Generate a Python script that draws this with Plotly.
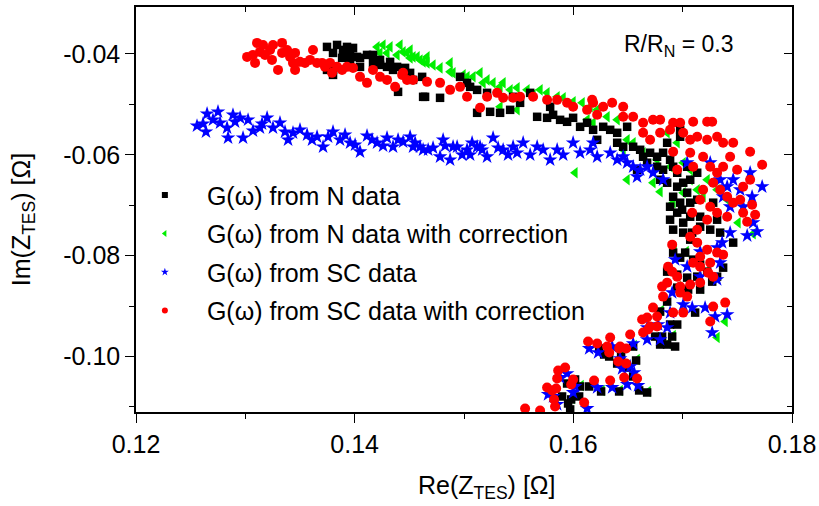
import plotly.graph_objects as go

# ---------------- data (Re, Im of Z_TES in Ohm) ----------------
# G(w) from N data
n_re = [0.13747, 0.13839, 0.13930, 0.13985, 0.13802, 0.13894, 0.13985, 0.14049, 0.14113, 0.13802,
        0.14049, 0.14168, 0.14232, 0.14296, 0.14351, 0.14443, 0.14507, 0.14534, 0.14626, 0.14781,
        0.14964, 0.15056, 0.15120, 0.15330, 0.15211, 0.15449, 0.13894, 0.13958, 0.13885, 0.13958,
        0.14022, 0.14168, 0.14232, 0.14324, 0.14388, 0.14461, 0.13747, 0.13802, 0.14397, 0.14617,
        0.14644, 0.15028, 0.15120, 0.15239, 0.15422, 0.15513, 0.15605, 0.15669, 0.15760, 0.15815,
        0.15879, 0.15943, 0.15998, 0.16062, 0.16126, 0.16181, 0.16218, 0.15788, 0.16273, 0.16337,
        0.16401, 0.16492, 0.16401, 0.16456, 0.16547, 0.16611, 0.16638, 0.16702, 0.16766, 0.16821,
        0.16885, 0.16675, 0.16766, 0.16821, 0.16913, 0.16950, 0.16794, 0.16858, 0.16950, 0.17005,
        0.17041, 0.16913, 0.16977, 0.16885, 0.16950, 0.17069, 0.16977, 0.16858, 0.17041, 0.17133,
        0.17069, 0.16583, 0.16977, 0.17462, 0.17133, 0.16995, 0.16885, 0.16913, 0.17005, 0.17160,
        0.17279, 0.17315, 0.17343, 0.17069, 0.17160, 0.17252, 0.17087, 0.17005, 0.17069, 0.16913,
        0.17023, 0.16977, 0.17096, 0.17160, 0.17224, 0.16858, 0.16950, 0.17041, 0.17133, 0.17270,
        0.17315, 0.17370, 0.16950, 0.17050, 0.17160, 0.16858, 0.16794, 0.17114, 0.16885, 0.16950,
        0.16748, 0.16812, 0.16904, 0.16794, 0.16858, 0.16931, 0.16547, 0.16236, 0.16282, 0.16328,
        0.16401, 0.16437, 0.16492, 0.16574, 0.16547, 0.16602, 0.16675, 0.16062, 0.16145, 0.16254,
        0.16419, 0.16016, 0.15943, 0.16053, 0.15980, 0.15952, 0.15897, 0.15971]
n_im = [-0.03861, -0.03822, -0.03861, -0.03881, -0.03980, -0.04020, -0.04059, -0.04079, -0.04020, -0.04317,
        -0.04257, -0.04178, -0.04218, -0.04257, -0.04317, -0.04317, -0.04376, -0.04515, -0.04851, -0.04871,
        -0.04455, -0.04653, -0.05168, -0.05168, -0.04772, -0.04851, -0.03921, -0.03960, -0.04079, -0.04119,
        -0.04059, -0.04020, -0.04119, -0.04158, -0.04257, -0.04277, -0.04317, -0.04416, -0.04752, -0.04455,
        -0.04851, -0.04574, -0.04713, -0.05148, -0.05109, -0.04970, -0.04772, -0.05247, -0.05267, -0.05208,
        -0.05307, -0.05346, -0.05267, -0.05445, -0.05366, -0.05505, -0.05703, -0.05049, -0.05445, -0.05505,
        -0.05564, -0.05445, -0.05762, -0.05841, -0.05841, -0.05901, -0.06039, -0.05960, -0.06039, -0.05960,
        -0.06099, -0.06158, -0.06237, -0.06297, -0.06237, -0.06356, -0.06495, -0.06554, -0.06633, -0.06554,
        -0.06752, -0.06832, -0.06950, -0.07030, -0.07148, -0.06950, -0.05505, -0.05762, -0.06237, -0.06356,
        -0.06495, -0.06297, -0.05643, -0.07742, -0.06891, -0.07089, -0.07287, -0.07485, -0.07346, -0.07228,
        -0.06950, -0.07287, -0.07544, -0.07228, -0.07426, -0.07485, -0.07544, -0.07544, -0.07683, -0.07940,
        -0.07940, -0.08040, -0.08079, -0.08178, -0.08317, -0.08317, -0.08376, -0.08436, -0.08416, -0.08515,
        -0.08416, -0.08238, -0.08634, -0.08673, -0.08673, -0.08911, -0.09109, -0.09129, -0.09366, -0.09366,
        -0.09604, -0.09604, -0.09604, -0.09762, -0.09762, -0.09802, -0.09802, -0.09841, -0.09960, -0.10000,
        -0.10139, -0.10000, -0.10218, -0.10079, -0.10396, -0.10673, -0.10713, -0.10594, -0.10594, -0.10693,
        -0.10693, -0.10455, -0.10535, -0.10792, -0.10851, -0.10931, -0.10792, -0.11049]

# G(w) from N data with correction
nc_re = [0.14168, 0.14205, 0.14232, 0.14260, 0.14296, 0.14324, 0.14388, 0.14415, 0.14443, 0.14479,
         0.14507, 0.14507, 0.14534, 0.14571, 0.14598, 0.14626, 0.14662, 0.14662, 0.14717, 0.14781,
         0.14873, 0.14873, 0.14900, 0.14992, 0.15028, 0.15083, 0.15147, 0.15175, 0.15211, 0.15266,
         0.15330, 0.15358, 0.15422, 0.15486, 0.15577, 0.15632, 0.15696, 0.15760, 0.15852, 0.15907,
         0.15998, 0.16081, 0.16154, 0.16218, 0.16126, 0.16181, 0.15330, 0.15486, 0.16309, 0.16401,
         0.16492, 0.16456, 0.16547, 0.16638, 0.16766, 0.16885, 0.16492, 0.16729, 0.16794, 0.16913,
         0.17005, 0.17069, 0.17005, 0.17069, 0.17133, 0.17187, 0.17224, 0.17315, 0.17407, 0.16858,
         0.16950, 0.16016, 0.17507, 0.17645, 0.17389, 0.17315, 0.16923, 0.17033, 0.17170, 0.17234,
         0.16960, 0.17170, 0.16804, 0.16914, 0.16868, 0.16557, 0.16292, 0.16447, 0.16584, 0.16072,
         0.16264, 0.16429, 0.15990, 0.16685]
nc_im = [-0.04059, -0.03861, -0.03980, -0.03822, -0.03980, -0.03861, -0.04020, -0.03822, -0.03960, -0.03980,
         -0.03921, -0.04079, -0.04059, -0.04059, -0.04119, -0.04158, -0.04059, -0.04178, -0.04218, -0.04277,
         -0.04178, -0.04356, -0.04376, -0.04416, -0.04455, -0.04455, -0.04376, -0.04574, -0.04515, -0.04574,
         -0.04653, -0.04574, -0.04713, -0.04673, -0.04713, -0.04812, -0.04713, -0.04772, -0.04851, -0.04871,
         -0.04950, -0.04970, -0.05049, -0.05109, -0.05307, -0.05366, -0.05049, -0.05109, -0.05247, -0.05307,
         -0.05703, -0.05901, -0.05762, -0.05960, -0.06099, -0.06237, -0.06495, -0.06554, -0.06732, -0.06950,
         -0.06752, -0.06495, -0.06158, -0.06297, -0.06693, -0.06832, -0.06495, -0.06693, -0.06891, -0.05564,
         -0.05762, -0.06356, -0.07346, -0.07564, -0.09307, -0.09624, -0.07920, -0.07920, -0.08158, -0.08297,
         -0.08614, -0.08653, -0.09089, -0.09584, -0.09742, -0.09782, -0.09940, -0.09980, -0.10059, -0.10574,
         -0.10673, -0.10673, -0.10831, -0.10693]

# G(w) from SC data
sc_re = [0.12558, 0.12613, 0.12640, 0.12650, 0.12704, 0.12750, 0.12769, 0.12842, 0.12887, 0.12906,
         0.12952, 0.12979, 0.13025, 0.13070, 0.13134, 0.13199, 0.13253, 0.13317, 0.13363, 0.13391,
         0.13436, 0.13565, 0.13656, 0.13711, 0.13802, 0.13866, 0.13958, 0.14049, 0.14113, 0.14205,
         0.14296, 0.14351, 0.14443, 0.14507, 0.14598, 0.14717, 0.14781, 0.14873, 0.14937, 0.15028,
         0.15120, 0.15211, 0.15266, 0.15358, 0.15449, 0.12833, 0.13153, 0.13500, 0.13610, 0.13757,
         0.13912, 0.14004, 0.14159, 0.14260, 0.14397, 0.14553, 0.14672, 0.14827, 0.14983, 0.15074,
         0.15166, 0.15312, 0.15403, 0.14534, 0.14626, 0.14809, 0.14900, 0.15056, 0.15147, 0.15486,
         0.15541, 0.15605, 0.15669, 0.15724, 0.15788, 0.15852, 0.15907, 0.15998, 0.16062, 0.16154,
         0.16218, 0.16181, 0.16337, 0.16401, 0.16456, 0.16492, 0.16547, 0.16611, 0.16675, 0.16583,
         0.16729, 0.16821, 0.17041, 0.17252, 0.17343, 0.17407, 0.17462, 0.17526, 0.17617, 0.17727,
         0.17635, 0.17370, 0.17553, 0.17434, 0.17645, 0.17681, 0.17590, 0.17434, 0.17361, 0.17315,
         0.17160, 0.17041, 0.17343, 0.17315, 0.16931, 0.17160, 0.16904, 0.17005, 0.17087, 0.17205,
         0.17407, 0.17297, 0.17270, 0.16885, 0.16858, 0.16675, 0.16775, 0.16794, 0.16675, 0.16547,
         0.16355, 0.16145, 0.16227, 0.16428, 0.16446, 0.16520, 0.16556, 0.16592, 0.16492, 0.16355,
         0.16218, 0.15943, 0.15879, 0.15998, 0.16016, 0.15769, 0.15815, 0.15852, 0.16126]
sc_im = [-0.05426, -0.05386, -0.05544, -0.05188, -0.05307, -0.05148, -0.05366, -0.05663, -0.05208, -0.05346,
         -0.05267, -0.05663, -0.05307, -0.05525, -0.05465, -0.05267, -0.05465, -0.05366, -0.05544, -0.05703,
         -0.05564, -0.05604, -0.05643, -0.05841, -0.05544, -0.05703, -0.05762, -0.05940, -0.05624, -0.05762,
         -0.05663, -0.05841, -0.05742, -0.05643, -0.05841, -0.05861, -0.06039, -0.06099, -0.05841, -0.05901,
         -0.05841, -0.06039, -0.05663, -0.05901, -0.05841, -0.05465, -0.05386, -0.05505, -0.05703, -0.05643,
         -0.05604, -0.05802, -0.05703, -0.05822, -0.05703, -0.05762, -0.05901, -0.05822, -0.06000, -0.05762,
         -0.05901, -0.05861, -0.06000, -0.05841, -0.05901, -0.05703, -0.05841, -0.06000, -0.05841, -0.05960,
         -0.05762, -0.06000, -0.05841, -0.05901, -0.06099, -0.05901, -0.06000, -0.05762, -0.05960, -0.05901,
         -0.06039, -0.05762, -0.05960, -0.06099, -0.06039, -0.06158, -0.06237, -0.06297, -0.06237, -0.06435,
         -0.06356, -0.06495, -0.06158, -0.06158, -0.06495, -0.06633, -0.06495, -0.06693, -0.06356, -0.06633,
         -0.06832, -0.06832, -0.07030, -0.07030, -0.07346, -0.07525, -0.07604, -0.07544, -0.07742, -0.07841,
         -0.07921, -0.08218, -0.08139, -0.08475, -0.08079, -0.08416, -0.08733, -0.08970, -0.09030, -0.09030,
         -0.09168, -0.09208, -0.09525, -0.09129, -0.09426, -0.09426, -0.09366, -0.09663, -0.09663, -0.09742,
         -0.09802, -0.09841, -0.09921, -0.10040, -0.10238, -0.10198, -0.10317, -0.10574, -0.10554, -0.10614,
         -0.10614, -0.10337, -0.10416, -0.10713, -0.10594, -0.10752, -0.10792, -0.10950, -0.11030]

# G(w) from SC data with correction
scc_re = [0.13016, 0.13070, 0.13089, 0.13107, 0.13134, 0.13162, 0.13180, 0.13226, 0.13244, 0.13253,
          0.13299, 0.13336, 0.13336, 0.13382, 0.13409, 0.13436, 0.13455, 0.13455, 0.13500, 0.13546,
          0.13592, 0.13619, 0.13656, 0.13702, 0.13729, 0.13775, 0.13793, 0.13839, 0.13885, 0.13930,
          0.13985, 0.14049, 0.14113, 0.14168, 0.14232, 0.14296, 0.14370, 0.14434, 0.14479, 0.14443,
          0.14534, 0.14662, 0.14781, 0.14873, 0.14964, 0.15028, 0.15147, 0.15211, 0.15303, 0.15358,
          0.15449, 0.15513, 0.15632, 0.15760, 0.15852, 0.15943, 0.15998, 0.16126, 0.16172, 0.16218,
          0.16181, 0.16273, 0.16355, 0.16456, 0.16456, 0.16547, 0.16638, 0.16729, 0.16794, 0.16913,
          0.16977, 0.17096, 0.17224, 0.17270, 0.16638, 0.16702, 0.16794, 0.16885, 0.17005, 0.17069,
          0.17133, 0.17224, 0.17315, 0.17370, 0.17462, 0.17617, 0.17727, 0.16913, 0.16950, 0.17069,
          0.17096, 0.17187, 0.17252, 0.17315, 0.17370, 0.17434, 0.17498, 0.17553, 0.17617, 0.17279,
          0.17343, 0.17407, 0.17462, 0.17526, 0.17635, 0.17187, 0.17160, 0.17252, 0.17315, 0.17087,
          0.16904, 0.17069, 0.17133, 0.17224, 0.17407, 0.17553, 0.17663, 0.17590, 0.17133, 0.17224,
          0.17315, 0.17370, 0.17160, 0.17096, 0.17160, 0.17252, 0.17233, 0.17279, 0.17160, 0.17069,
          0.16977, 0.16904, 0.16867, 0.16950, 0.16858, 0.16812, 0.16977, 0.17041, 0.16729, 0.16821,
          0.16913, 0.17005, 0.17279, 0.17389, 0.17252, 0.16675, 0.16629, 0.16766, 0.16702, 0.16520,
          0.16337, 0.16428, 0.16309, 0.16135, 0.16218, 0.16328, 0.16419, 0.16483, 0.16410, 0.16483,
          0.16465, 0.16337, 0.16190, 0.16583, 0.15925, 0.15861, 0.15852, 0.15843, 0.15806, 0.15760,
          0.15998, 0.15980, 0.15824, 0.15833, 0.16099, 0.15559, 0.15696, 0.16638, 0.16684, 0.16766]
scc_im = [-0.04059, -0.04020, -0.04178, -0.03782, -0.03960, -0.03822, -0.04020, -0.03921, -0.04119, -0.03822,
          -0.04317, -0.03782, -0.03980, -0.03921, -0.04059, -0.04178, -0.03980, -0.04317, -0.04158, -0.04178,
          -0.04119, -0.03921, -0.04178, -0.04178, -0.04257, -0.04178, -0.04376, -0.04257, -0.04317, -0.04257,
          -0.04277, -0.04455, -0.04574, -0.04317, -0.04455, -0.04515, -0.04653, -0.04416, -0.04515, -0.04376,
          -0.04515, -0.04554, -0.04574, -0.04713, -0.04653, -0.04851, -0.05069, -0.04851, -0.04772, -0.04871,
          -0.04871, -0.04851, -0.04851, -0.04911, -0.04911, -0.04970, -0.05049, -0.05109, -0.04911, -0.05208,
          -0.04970, -0.05049, -0.04970, -0.05049, -0.05247, -0.05247, -0.05366, -0.05307, -0.05307, -0.05366,
          -0.05366, -0.05346, -0.05346, -0.05346, -0.05564, -0.05703, -0.05564, -0.05505, -0.05564, -0.05703,
          -0.05643, -0.05703, -0.05643, -0.05762, -0.05762, -0.05940, -0.06198, -0.05940, -0.06297, -0.05960,
          -0.06237, -0.06039, -0.06237, -0.06356, -0.06237, -0.06039, -0.06297, -0.06633, -0.06495, -0.06554,
          -0.06693, -0.06832, -0.06950, -0.06891, -0.06990, -0.06693, -0.06891, -0.07030, -0.07148, -0.07148,
          -0.07782, -0.07624, -0.07485, -0.07287, -0.07228, -0.07148, -0.07188, -0.07327, -0.07742, -0.07881,
          -0.07940, -0.07980, -0.08020, -0.08139, -0.08218, -0.08139, -0.08337, -0.08416, -0.08535, -0.08574,
          -0.08614, -0.08317, -0.08218, -0.08416, -0.08535, -0.08614, -0.08733, -0.08812, -0.09030, -0.08812,
          -0.09129, -0.09129, -0.09010, -0.08931, -0.09307, -0.09228, -0.09267, -0.09208, -0.09406, -0.09564,
          -0.09624, -0.09802, -0.09802, -0.09703, -0.09742, -0.09921, -0.09841, -0.09841, -0.10099, -0.10139,
          -0.10416, -0.10475, -0.10475, -0.10436, -0.10218, -0.10277, -0.10436, -0.10633, -0.10673, -0.10614,
          -0.10455, -0.10554, -0.10851, -0.10990, -0.10911, -0.11030, -0.11069, -0.09525, -0.09465, -0.09406]

series_names = ["G(\u03c9) from N data",
                "G(\u03c9) from N data with correction",
                "G(\u03c9) from SC data",
                "G(\u03c9) from SC data with correction"]

x_range = [0.12, 0.18]
y_range = [-0.111, -0.0307]
x_major = [0.12, 0.14, 0.16, 0.18]
x_major_text = ["0.12", "0.14", "0.16", "0.18"]
x_minor = [0.13, 0.15, 0.17]
y_major = [-0.10, -0.08, -0.06, -0.04]
y_major_text = ["-0.10", "-0.08", "-0.06", "-0.04"]
y_minor = [-0.11, -0.09, -0.07, -0.05]

FONT = "Liberation Sans, Arial, sans-serif"

styles = [
    dict(symbol="square", color="#000000", size=8.5),
    dict(symbol="triangle-left", color="#00ee00", size=10),
    dict(symbol="star", color="#0000ff", size=11),
    dict(symbol="circle", color="#ff0000", size=10),
]
data = [(n_re, n_im), (nc_re, nc_im), (sc_re, sc_im), (scc_re, scc_im)]

fig = go.Figure()
# drawing order: green, black, blue, red
for i in [1, 0, 2, 3]:
    xs, ys = data[i]
    st = styles[i]
    fig.add_trace(go.Scatter(
        x=xs, y=ys, mode="markers", showlegend=False,
        marker=dict(symbol=st["symbol"], color=st["color"], size=st["size"], line=dict(width=0)),
    ))
# legend entries (small symbols as in the original)
for i in range(4):
    st = styles[i]
    fig.add_trace(go.Scatter(
        x=[None], y=[None], mode="markers", name=series_names[i],
        legendgroup=f"g{i}", legendrank=i + 1,
        marker=dict(symbol=st["symbol"], color=st["color"], size=6, line=dict(width=0)),
    ))
# mirror axes (inward ticks on top/right)
fig.add_trace(go.Scatter(x=[None], y=[None], xaxis="x2", yaxis="y2", showlegend=False,
                         hoverinfo="skip"))

axis_common = dict(showline=True, linecolor="black", linewidth=1.6, showgrid=False,
                   zeroline=False, tickcolor="black", tickwidth=1.4, automargin=False)

fig.update_layout(
    width=819, height=506,
    margin=dict(l=136, r=27, t=7, b=94),
    paper_bgcolor="white", plot_bgcolor="white",
    font=dict(family=FONT, size=25, color="black"),
    xaxis=dict(range=x_range, tickvals=x_major, ticktext=x_major_text, ticks="outside",
               ticklen=9, tickfont=dict(size=25),
               minor=dict(tickvals=x_minor, ticks="outside", ticklen=5, tickwidth=1.4,
                          tickcolor="black"),
               **axis_common),
    yaxis=dict(range=y_range, tickvals=y_major, ticktext=y_major_text, ticks="outside",
               ticklen=9, tickfont=dict(size=25),
               minor=dict(tickvals=y_minor, ticks="outside", ticklen=5, tickwidth=1.4,
                          tickcolor="black"),
               **axis_common),
    xaxis2=dict(range=x_range, overlaying="x", side="top", anchor="y", tickvals=x_major,
                ticks="inside", ticklen=8, showticklabels=False,
                minor=dict(tickvals=x_minor, ticks="inside", ticklen=5, tickwidth=1.4,
                           tickcolor="black"),
                **axis_common),
    yaxis2=dict(range=y_range, overlaying="y", side="right", anchor="x", tickvals=y_major,
                ticks="inside", ticklen=8, showticklabels=False,
                minor=dict(tickvals=y_minor, ticks="inside", ticklen=5, tickwidth=1.4,
                           tickcolor="black"),
                **axis_common),
    legend=dict(x=-0.02, y=0.592, xanchor="left", yanchor="top", bgcolor="rgba(0,0,0,0)",
                font=dict(size=25, family=FONT), itemwidth=74, tracegroupgap=3,
                traceorder="grouped"),
    annotations=[
        dict(text="R/R<sub>N</sub> = 0.3", xref="paper", yref="paper",
             x=0.741, y=0.906, xanchor="left", yanchor="middle", showarrow=False,
             font=dict(size=23, family=FONT)),
        dict(text="Re(Z<sub>TES</sub>) [\u03a9]", xref="paper", yref="paper",
             x=0.535, y=-0.185, xanchor="center", yanchor="middle", showarrow=False,
             font=dict(size=25, family=FONT)),
        dict(text="Im(Z<sub>TES</sub>) [\u03a9]", xref="paper", yref="paper",
             x=-0.172, y=0.474, xanchor="center", yanchor="middle", showarrow=False,
             textangle=-90, font=dict(size=25, family=FONT)),
    ],
)

fig.write_html(
    "out.html",
    config={"displayModeBar": False},
    post_script="document.body.style.margin='0';document.body.style.padding='0';"
                "document.body.style.overflow='hidden';",
)
